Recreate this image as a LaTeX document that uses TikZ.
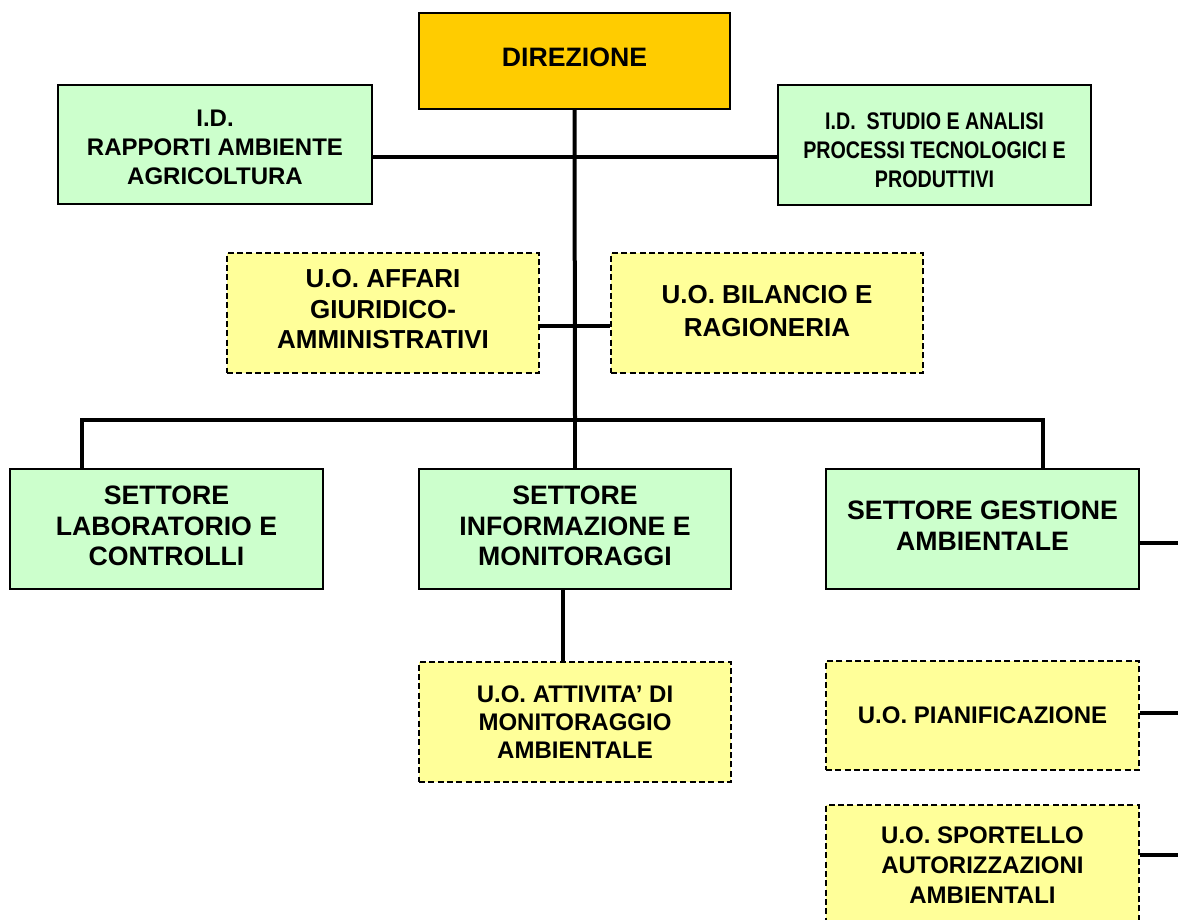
\documentclass[tikz,border=0pt]{standalone}
\usepackage{fontspec}
\setmainfont{Liberation Sans}
\newfontfamily\narrowfont[FakeStretch=0.82]{Liberation Sans}
\definecolor{boxgreen}{HTML}{CCFFCC}
\definecolor{boxyellow}{HTML}{FFFF99}
\definecolor{boxorange}{HTML}{FFCC00}
\begin{document}
\begin{tikzpicture}[x=0.75pt,y=-0.75pt,
  pxw/.style={minimum width=#1*0.75pt},
  pxh/.style={minimum height=#1*0.75pt},
  basebox/.style={rectangle, draw=black, line width=1.5pt, inner sep=0pt, align=center, font=\bfseries},
  obox/.style={basebox, fill=boxorange},
  gbox/.style={basebox, fill=boxgreen},
  ybox/.style={basebox, fill=boxyellow, dashed, dash pattern=on 4.5pt off 2.5pt},
  conn/.style={draw=black, line width=3pt},
  settorefont/.style={font=\bfseries\fontsize{20}{23}\selectfont},
  idfont/.style={font=\bfseries\fontsize{18}{21.8}\selectfont},
  uoafont/.style={font=\bfseries\fontsize{19.5}{23}\selectfont},
  uobfont/.style={font=\bfseries\fontsize{19.5}{24.5}\selectfont},
  narrowsmall/.style={font=\narrowfont\bfseries\fontsize{18}{22}\selectfont},
  uofont/.style={font=\bfseries\fontsize{18}{22.5}\selectfont},
  uomfont/.style={font=\bfseries\fontsize{18}{21}\selectfont}
]
\useasboundingbox (0,0) rectangle (1178,920);
\clip (0,0) rectangle (1178,920);
\fill[white] (0,0) rectangle (1178,920);

% coordinates of junctions
\coordinate (j1) at (575,157);
\coordinate (j2) at (575,326);
\coordinate (bus) at (575,420);
\coordinate (bl) at (82,420);
\coordinate (br) at (1043,420);
\coordinate (m) at (563,600);
\coordinate (e1) at (1185,543);
\coordinate (e2) at (1185,713);
\coordinate (e3) at (1185,855);

% nodes
\node[obox, pxw=311, pxh=96, text depth=6pt, font=\bfseries\fontsize{20}{22}\selectfont] (dir) at (574.5,61) {DIREZIONE};
\node[gbox, pxw=314, pxh=119, idfont] (idl) at (215,144.5) {\rule{0pt}{16.5pt}I.D.\\RAPPORTI AMBIENTE\\AGRICOLTURA};
\node[gbox, pxw=313, pxh=120, narrowsmall] (idr) at (934.5,145) {\rule{0pt}{20.5pt}I.D.\ \ STUDIO E ANALISI\\PROCESSI TECNOLOGICI E\\PRODUTTIVI};
\node[ybox, pxw=312, pxh=120, uoafont, text depth=6pt] (uoa) at (383,313) {U.O. AFFARI\\GIURIDICO-\\AMMINISTRATIVI};
\node[ybox, pxw=312, pxh=120, uobfont, text depth=3pt] (uob) at (767,313) {U.O. BILANCIO E\\RAGIONERIA};
\node[gbox, pxw=313, pxh=120, settorefont, text depth=4.5pt] (sl) at (166.5,529) {SETTORE\\LABORATORIO E\\CONTROLLI};
\node[gbox, pxw=312, pxh=120, settorefont, text depth=4.5pt] (si) at (575,529) {SETTORE\\INFORMAZIONE E\\MONITORAGGI};
\node[gbox, pxw=313, pxh=120, settorefont, text depth=4.5pt] (sg) at (982.5,529) {SETTORE GESTIONE\\AMBIENTALE};
\node[ybox, pxw=312, pxh=120, uomfont] (uom) at (575,722) {U.O. ATTIVITA’ DI\\MONITORAGGIO\\AMBIENTALE};
\node[ybox, pxw=313, pxh=109, uofont] (uop) at (982.5,715.5) {U.O. PIANIFICAZIONE};
\node[ybox, pxw=313, pxh=120, uofont] (uos) at (982.5,865) {U.O. SPORTELLO\\AUTORIZZAZIONI\\AMBIENTALI};

% connectors
\draw[conn] (dir.south) -- (bus);
\draw[conn] (idl.east |- j1) -- (idr.west |- j1);
\draw[conn] (uoa.east |- j2) -- (uob.west |- j2);
\draw[conn] (sl.north -| bl) -- (bl) -- (br) -- (sg.north -| br);
\draw[conn] (bus) -- (si.north);
\draw[conn] (si.south -| m) -- (uom.north -| m);
\draw[conn] (sg.east |- e1) -- (e1);
\draw[conn] (uop.east |- e2) -- (e2);
\draw[conn] (uos.east |- e3) -- (e3);
\end{tikzpicture}
\end{document}
